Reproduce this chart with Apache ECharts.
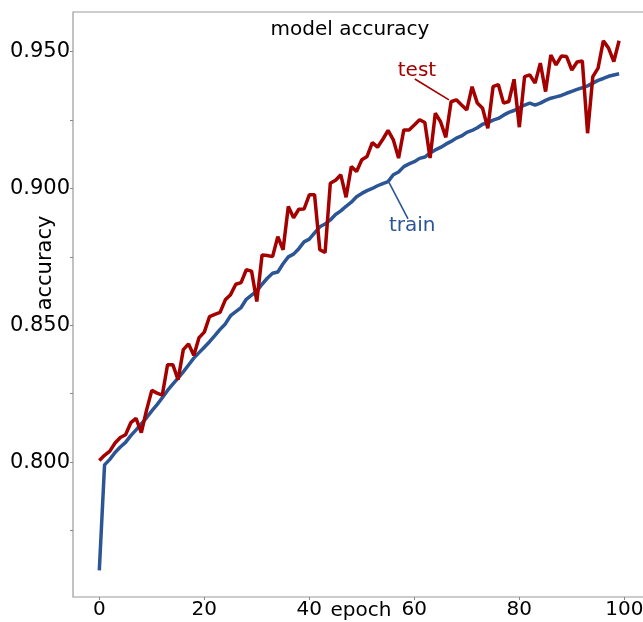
<!DOCTYPE html>
<html>
<head>
  <meta charset="UTF-8">
  <title>model accuracy</title>
  <script src="https://cdn.jsdelivr.net/npm/echarts@6/dist/echarts.min.js"></script>
  <style>
    html, body { margin: 0; padding: 0; background: #fff; }
    #chart { width: 643px; height: 622px; }
  </style>
</head>
<body>
  <div id="chart"></div>
  <script>
    // accuracy per epoch
    var trainAcc = [
      0.7604, 0.7990, 0.8010, 0.8035, 0.8055, 0.8072, 0.8097, 0.8118, 0.8140, 0.8162,
      0.8187, 0.8210, 0.8235, 0.8262, 0.8285, 0.8307, 0.8330, 0.8355, 0.8380, 0.8400,
      0.8420, 0.8440, 0.8462, 0.8485, 0.8505, 0.8535, 0.8550, 0.8565, 0.8595, 0.8610,
      0.8625, 0.8650, 0.8672, 0.8690, 0.8695, 0.8725, 0.8750, 0.8760, 0.8780, 0.8805,
      0.8815, 0.8838, 0.8860, 0.8870, 0.8885, 0.8905, 0.8918, 0.8935, 0.8950, 0.8970,
      0.8982, 0.8992, 0.9000, 0.9010, 0.9018, 0.9025, 0.9050, 0.9060, 0.9080, 0.9090,
      0.9098, 0.9110, 0.9115, 0.9130, 0.9141, 0.9150, 0.9162, 0.9172, 0.9184, 0.9192,
      0.9205, 0.9212, 0.9222, 0.9235, 0.9240, 0.9250, 0.9256, 0.9268, 0.9278, 0.9285,
      0.9295, 0.9305, 0.9312, 0.9305, 0.9312, 0.9322, 0.9330, 0.9335, 0.9340, 0.9348,
      0.9355, 0.9362, 0.9368, 0.9375, 0.9385, 0.9395, 0.9402, 0.9410, 0.9415, 0.9419
    ];
    var testAcc = [
      0.8006, 0.8025, 0.8040, 0.8070, 0.8090, 0.8100, 0.8144, 0.8160, 0.8108, 0.8190,
      0.8262, 0.8252, 0.8245, 0.8356, 0.8356, 0.8301, 0.8411, 0.8432, 0.8390, 0.8455,
      0.8475, 0.8532, 0.8540, 0.8547, 0.8593, 0.8612, 0.8650, 0.8656, 0.8703, 0.8698,
      0.8587, 0.8757, 0.8755, 0.8751, 0.8824, 0.8776, 0.8934, 0.8893, 0.8924, 0.8925,
      0.8977, 0.8977, 0.8776, 0.8766, 0.9019, 0.9030, 0.9050, 0.8968, 0.9080, 0.9062,
      0.9105, 0.9117, 0.9168, 0.9151, 0.9180, 0.9212, 0.9178, 0.9111, 0.9214, 0.9214,
      0.9232, 0.9251, 0.9241, 0.9111, 0.9275, 0.9244, 0.9187, 0.9317, 0.9324, 0.9305,
      0.9287, 0.9372, 0.9312, 0.9293, 0.9220, 0.9372, 0.9380, 0.9312, 0.9318, 0.9399,
      0.9224, 0.9409, 0.9415, 0.9385, 0.9458, 0.9354, 0.9488, 0.9452, 0.9484, 0.9482,
      0.9433, 0.9462, 0.9466, 0.9202, 0.9409, 0.9440, 0.9540, 0.9513, 0.9464, 0.9540
    ];
    var epochs = trainAcc.map(function (v, i) { return i; });

    var xTicks = [0, 20, 40, 60, 80, 100];
    var yLabels = [0.800, 0.850, 0.900, 0.950];
    var yTicks = [0.775, 0.800, 0.825, 0.850, 0.875, 0.900, 0.925, 0.950];

    var trainColor = '#2c5596';
    var testColor = '#a50000';
    var font = 'DejaVu Sans';

    // callout labels, in data coordinates [epoch, accuracy]
    var callouts = [
      { text: 'test', color: testColor, at: [60.5, 0.9430], from: [60.1, 0.9400], to: [66.6, 0.9324] },
      { text: 'train', color: trainColor, at: [59.6, 0.8864], from: [55.2, 0.9021], to: [58.8, 0.8889] }
    ];

    function pairs(ys) {
      return epochs.map(function (e, i) { return [e, ys[i]]; });
    }

    var chart = echarts.init(document.getElementById('chart'), null, { renderer: 'canvas' });
    chart.setOption({
      animation: false,
      backgroundColor: '#fff',
      grid: {
        left: 73, top: 12, width: 576, height: 585,
        containLabel: false, outerBoundsMode: 'none',
        show: true, borderColor: '#9a9a9a', borderWidth: 1.2, backgroundColor: 'transparent'
      },
      xAxis: {
        type: 'value', min: -5.01, max: 104.7,
        axisLine: { show: false, onZero: false },
        splitLine: { show: false },
        axisTick: { show: true, length: 3, lineStyle: { color: '#888' }, customValues: xTicks },
        axisLabel: {
          customValues: xTicks, margin: 3,
          fontSize: 20, fontFamily: font, color: '#000'
        }
      },
      yAxis: {
        type: 'value', min: 0.7507, max: 0.9645,
        axisLine: { show: false, onZero: false },
        splitLine: { show: false },
        axisTick: { show: true, length: 3, lineStyle: { color: '#888' }, customValues: yTicks },
        axisLabel: {
          customValues: yLabels, margin: 3,
          fontSize: 21, fontFamily: font, color: '#000',
          formatter: function (v) { return v.toFixed(3); }
        }
      },
      series: [
        {
          name: 'train', type: 'line', data: pairs(trainAcc),
          showSymbol: false, symbol: 'none',
          lineStyle: { width: 3.5, color: trainColor }
        },
        {
          name: 'test', type: 'line', data: pairs(testAcc),
          showSymbol: false, symbol: 'none',
          lineStyle: { width: 3.5, color: testColor }
        }
      ]
    });

    // title, axis names and callouts
    var g = [
      { type: 'text', x: 350, y: 30, style: { text: 'model accuracy', font: '20px "' + font + '"', fill: '#000', textAlign: 'center', textVerticalAlign: 'middle' } },
      { type: 'text', x: 361, y: 611, style: { text: 'epoch', font: '20px "' + font + '"', fill: '#000', textAlign: 'center', textVerticalAlign: 'middle' } },
      { type: 'text', x: 46, y: 263, rotation: Math.PI / 2, style: { text: 'accuracy', font: '21px "' + font + '"', fill: '#000', textAlign: 'center', textVerticalAlign: 'middle' } }
    ];
    callouts.forEach(function (c) {
      var p0 = chart.convertToPixel({ gridIndex: 0 }, c.from);
      var p1 = chart.convertToPixel({ gridIndex: 0 }, c.to);
      var pt = chart.convertToPixel({ gridIndex: 0 }, c.at);
      g.push({ type: 'line', shape: { x1: p0[0], y1: p0[1], x2: p1[0], y2: p1[1] }, style: { stroke: c.color, lineWidth: 1.6 } });
      g.push({ type: 'text', x: pt[0], y: pt[1], style: { text: c.text, font: '20px "' + font + '"', fill: c.color, textAlign: 'center', textVerticalAlign: 'middle' } });
    });
    chart.setOption({ graphic: g });
  </script>
</body>
</html>
